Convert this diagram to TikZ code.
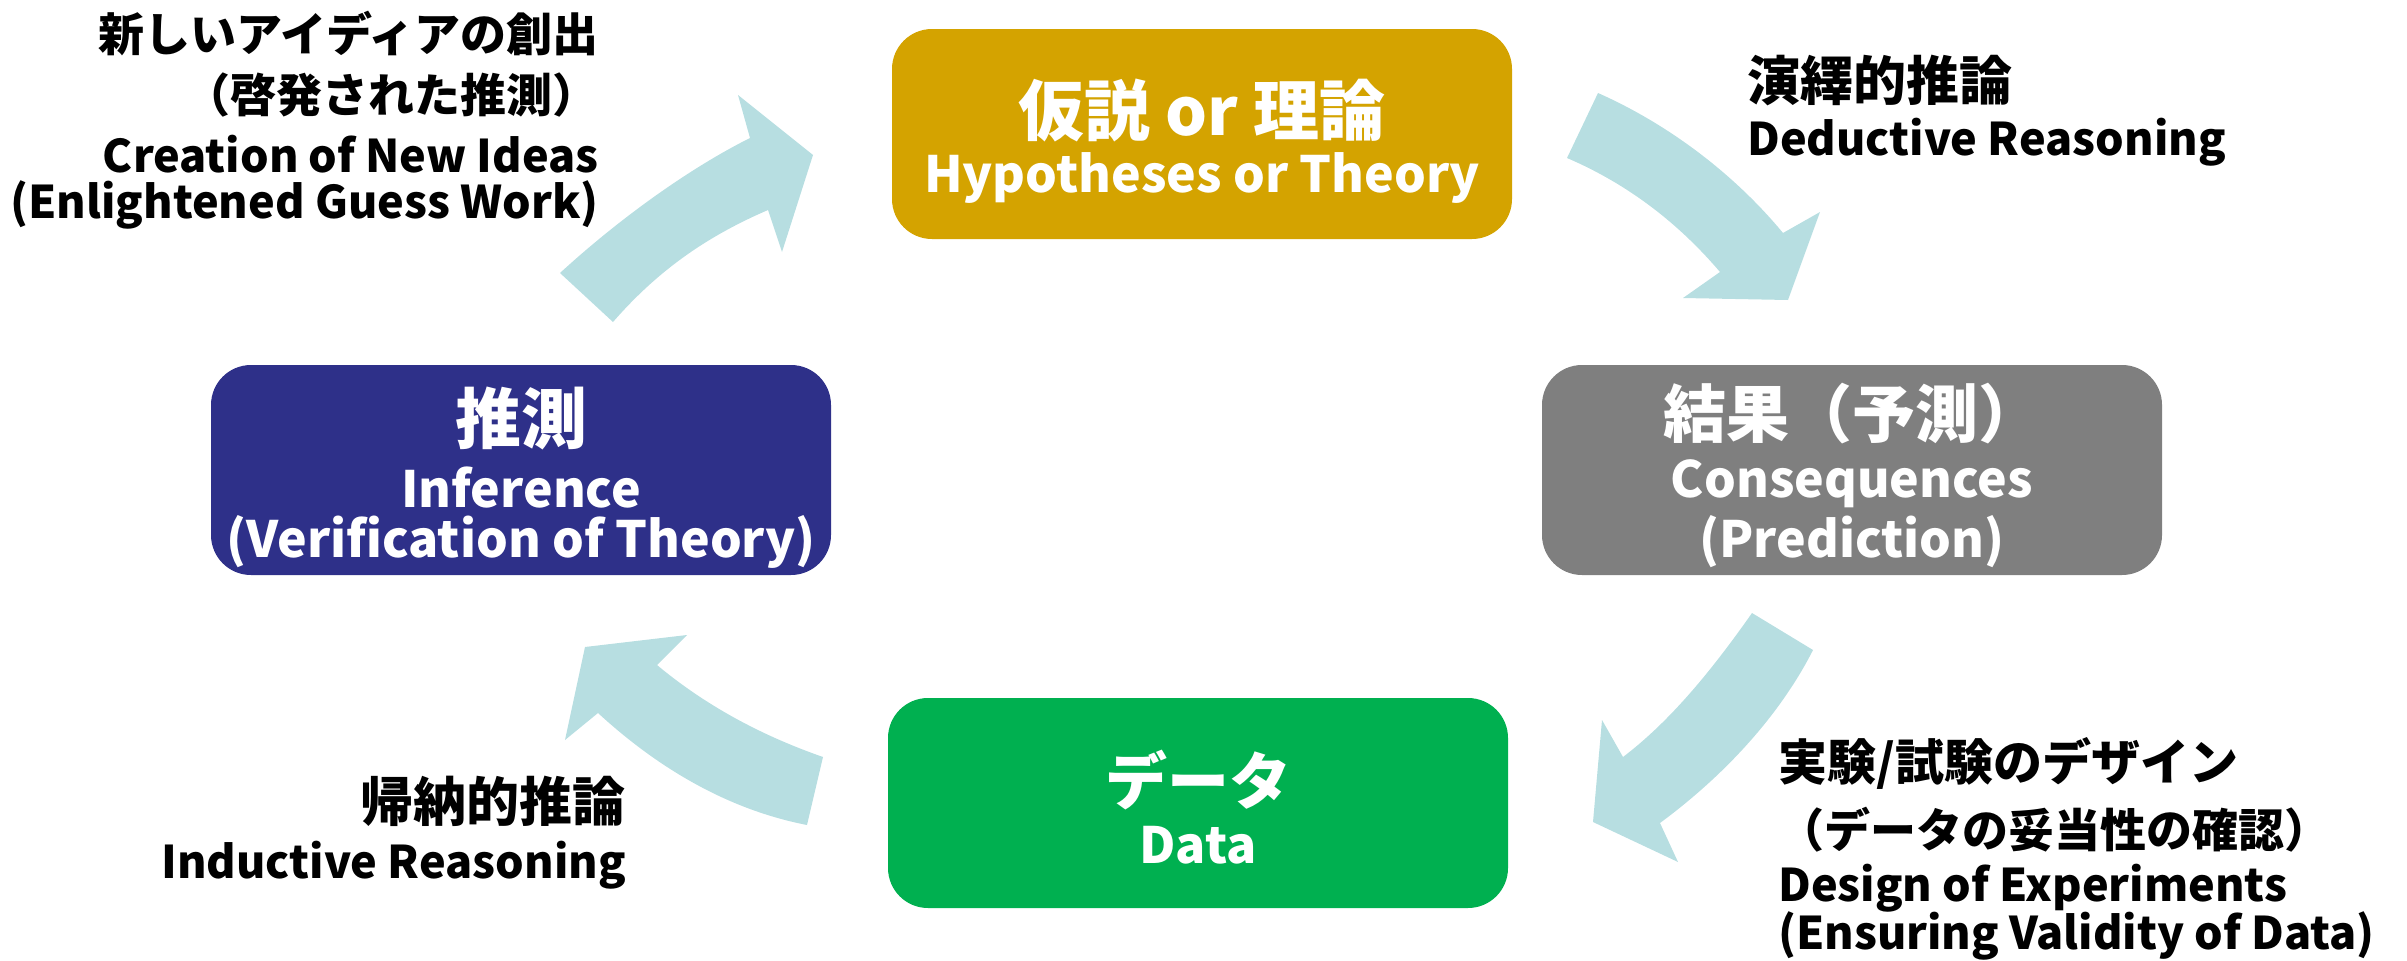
\documentclass[tikz,border=0pt]{standalone}
\usepackage{fontspec}
\setmainfont{Noto Sans CJK JP}
\definecolor{arrowc}{RGB}{183,222,225}
\definecolor{ybox}{RGB}{212,163,0}
\definecolor{bbox}{RGB}{46,48,137}
\definecolor{gbox}{RGB}{127,127,127}
\definecolor{grbox}{RGB}{0,176,80}
\tikzset{
  box/.style={rounded corners=40pt, minimum width=620pt, minimum height=210pt, inner sep=0pt, draw=none},
  wtA/.style={text=white, inner sep=0pt, font=\bfseries\fontsize{66}{70}\selectfont},
  wtB/.style={text=white, inner sep=0pt, font=\bfseries\fontsize{50}{54}\selectfont},
  btL/.style={text=black, inner sep=0pt, font=\bfseries\fontsize{45}{50}\selectfont},
  btJ/.style={text=black, inner sep=0pt, font=\bfseries\fontsize{53}{56}\selectfont},
  btJs/.style={text=black, inner sep=0pt, font=\bfseries\fontsize{46}{50}\selectfont},
  btJm/.style={text=black, inner sep=0pt, font=\bfseries\fontsize{49}{52}\selectfont},
  flow/.style={fill=arrowc, draw=none},
}
\begin{document}
\begin{tikzpicture}[x=1pt, y=-1pt]
\useasboundingbox (0,0) rectangle (2407,961);
% curved block arrows
\fill[flow] (560,273) .. controls (620,218) and (690,168) .. (750,138) -- (738,95) -- (813,155) -- (782,252) -- (768,210) .. controls (710,235) and (660,268) .. (613,322) -- cycle;
\fill[flow] (1598,93) .. controls (1670,125) and (1735,175) .. (1783,233) -- (1820,212) -- (1788,300) -- (1683,298) -- (1720,272) .. controls (1680,225) and (1630,185) .. (1567,158) -- cycle;
\fill[flow] (1752,613) .. controls (1705,680) and (1665,725) .. (1623,757) -- (1602,720) -- (1593,822) -- (1678,862) -- (1660,823) .. controls (1725,775) and (1780,715) .. (1813,650) -- cycle;
\fill[flow] (823,757) .. controls (760,735) and (705,705) .. (657,665) -- (687,635) -- (585,647) -- (565,740) -- (598,713) .. controls (660,770) and (730,810) .. (807,825) -- cycle;
% boxes
\node[box, fill=ybox] (hyp) at (1202,134) {};
\node[box, fill=bbox] (inf) at (521,470) {};
\node[box, fill=gbox] (con) at (1852,470) {};
\node[box, fill=grbox] (dat) at (1198,803) {};
% box texts
\node[wtA] (hyp1) at (1202,110) {仮説 or 理論};
\node[wtB] (hyp2) at (1202,178) {Hypotheses or Theory};
\node[wtA] (inf1) at (521,418) {推測};
\node[wtB] (inf2) at (521,488) {Inference};
\node[wtB] (inf3) at (521,542) {(Verification of Theory)};
\node[wtA, font=\bfseries\fontsize{63}{66}\selectfont] (con1) at (1852,414) {結果（予測）};
\node[wtB] (con2) at (1852,484) {Consequences};
\node[wtB] (con3) at (1852,542) {(Prediction)};
\node[wtA, font=\bfseries\fontsize{62}{66}\selectfont] (dat1) at (1198,780) {データ};
\node[wtB] (dat2) at (1198,845) {Data};
% outside labels
\node[btJs, anchor=east] (cr1) at (599,34) {新しいアイディアの創出};
\node[btJs, anchor=east] (cr2) at (599,95) {（啓発された推測）};
\node[btL, anchor=east] (cr3) at (599,154) {Creation of New Ideas};
\node[btL, anchor=east] (cr4) at (599,205) {(Enlightened Guess Work)};
\node[btJ, anchor=west] (de1) at (1747,80) {演繹的推論};
\node[btL, anchor=west] (de2) at (1747,142) {Deductive Reasoning};
\node[btJm, anchor=west] (ex1) at (1778,763) {実験/試験のデザイン};
\node[btJs, anchor=west] (ex2) at (1778,830) {（データの妥当性の確認）};
\node[btL, anchor=west] (ex3) at (1778,888) {Design of Experiments};
\node[btL, anchor=west] (ex4) at (1778,936) {(Ensuring Validity of Data)};
\node[btJ, anchor=east] (in1) at (626,801) {帰納的推論};
\node[btL, anchor=east] (in2) at (626,865) {Inductive Reasoning};
\end{tikzpicture}
\end{document}
